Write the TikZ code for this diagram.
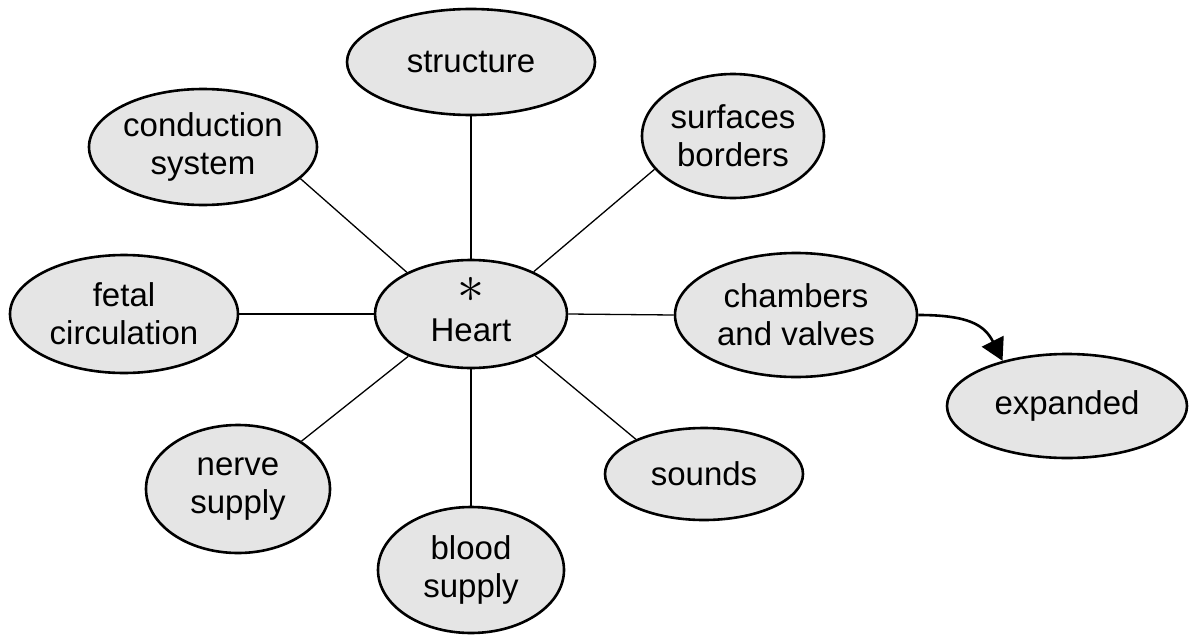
\documentclass[tikz,border=0pt]{standalone}
\usepackage{fontspec}
\setmainfont{Liberation Sans}
\usetikzlibrary{shapes.geometric,arrows.meta}
\begin{document}
\begin{tikzpicture}[x=1pt,y=-1pt,
  bub/.style 2 args={ellipse,draw=black,line width=2.6pt,fill=gray!20,
    minimum width=#1,minimum height=#2,inner sep=0pt},
  lbl/.style={align=center,inner sep=0pt,font=\fontsize{33}{38}\selectfont},
  link/.style={line width=1.3pt},
  exparrow/.style={line width=2.6pt,-{Triangle[length=22pt,width=24pt]}}]
\useasboundingbox (0,0) rectangle (1190,634);
\node[bub={192pt}{108pt},
  label={[inner sep=0pt,font=\fontsize{10}{12}\selectfont,yshift=24pt]center:\scalebox{5.4}{$\ast$}},
  label={[lbl,yshift=-16pt]center:Heart}] (heart) at (471,314) {};
\node[bub={248pt}{106pt},label={[lbl]center:structure}] (st) at (471,62) {};
\node[bub={228pt}{116pt},label={[lbl]center:conduction\\system}] (cs) at (203,147) {};
\node[bub={182pt}{124pt},label={[lbl]center:surfaces\\borders}] (sb) at (733,136) {};
\node[bub={228pt}{118pt},label={[lbl]center:fetal\\circulation}] (fc) at (124,314) {};
\node[bub={242pt}{124pt},label={[lbl]center:chambers\\and valves}] (cv) at (796,315) {};
\node[bub={240pt}{104pt},label={[lbl]center:expanded}] (ex) at (1067,406) {};
\node[bub={184pt}{128pt},label={[lbl]center:nerve\\supply}] (ns) at (238,489) {};
\node[bub={198pt}{92pt},label={[lbl]center:sounds}] (so) at (704,474) {};
\node[bub={186pt}{126pt},label={[lbl]center:blood\\supply}] (bs) at (471,570) {};

\draw[link] (heart.north) -- (st.south);
\draw[link] (heart.south) -- (bs.north);
\draw[link] (heart.west) -- (fc.east);
\draw[link] (heart.east) -- (cv.west);
\draw[link] (heart.147) -- (cs.342);
\draw[link] (heart.34) -- (sb.203);
\draw[link] (heart.-33) -- (so.153);
\draw[link] (heart.214) -- (ns.37);
\draw[exparrow] (cv.east) .. controls +(50,0) and +(-18,-36) .. (ex.145);
\end{tikzpicture}
\end{document}
